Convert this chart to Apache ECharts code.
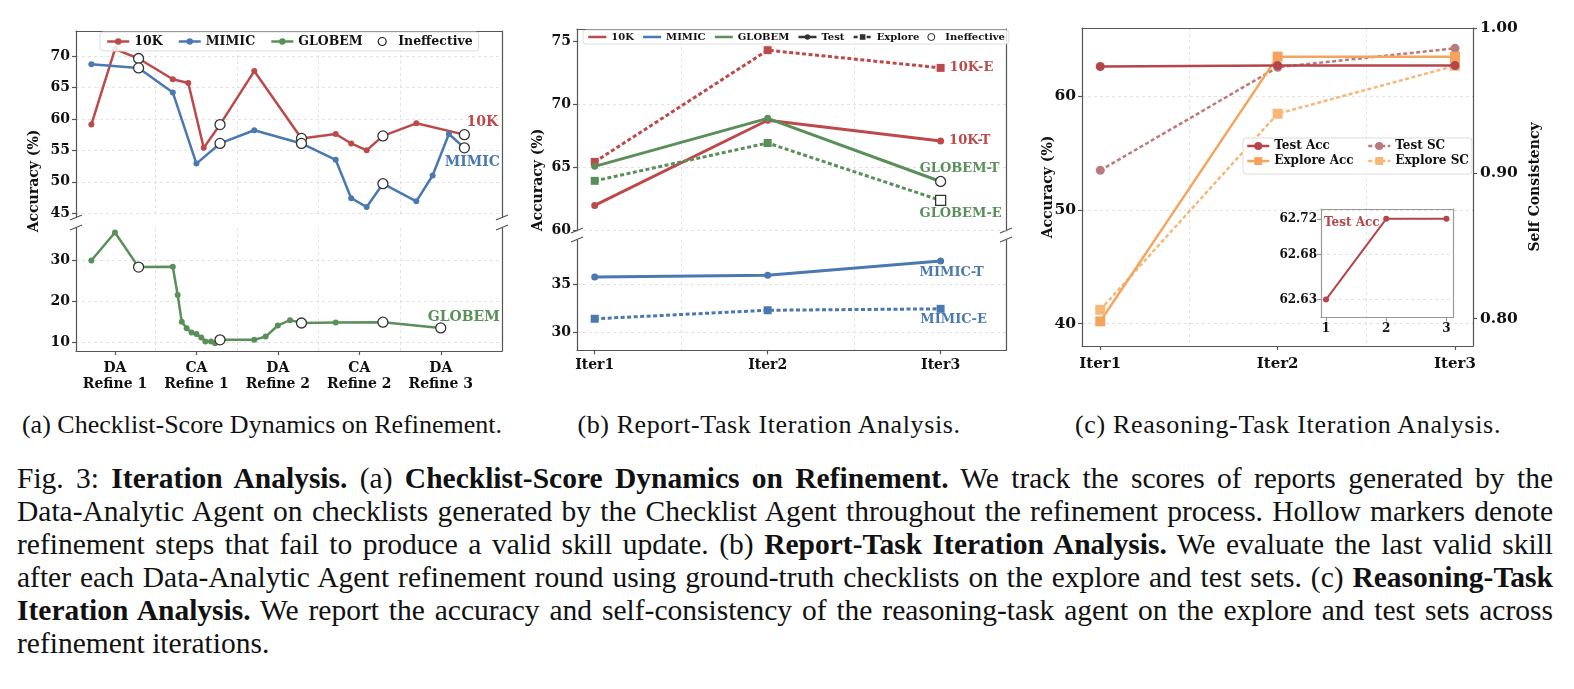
<!DOCTYPE html>
<html>
<head>
<meta charset="utf-8">
<script src="https://cdn.jsdelivr.net/npm/echarts@6/dist/echarts.min.js"></script>
<style>
body { margin: 0; background: #fff; }
#main { position: absolute; left: 0; top: 0; width: 1574px; height: 400px; }
.sub { position: absolute; top: 410px; line-height: 30px; font-family: 'Liberation Serif', serif; font-size: 26px; white-space: nowrap; transform: translateX(-50%); color: #111; }
#cap { position: absolute; left: 17px; top: 462px; width: 1536px; font-family: 'Liberation Serif', serif; font-size: 29.5px; line-height: 33px; color: #111; }
#cap div { text-align: justify; text-align-last: justify; white-space: nowrap; }
#cap div.last { text-align-last: left; }
</style>
</head>
<body>
<div id="main"></div>
<div class="sub" style="left:262px">(a) Checklist-Score Dynamics on Refinement.</div>
<div class="sub" style="left:769px;letter-spacing:0.6px">(b) Report-Task Iteration Analysis.</div>
<div class="sub" style="left:1288px;letter-spacing:0.7px">(c) Reasoning-Task Iteration Analysis.</div>
<div id="cap">
<div>Fig. 3: <b>Iteration Analysis.</b> (a) <b>Checklist-Score Dynamics on Refinement.</b> We track the scores of reports generated by the</div>
<div>Data-Analytic Agent on checklists generated by the Checklist Agent throughout the refinement process. Hollow markers denote</div>
<div>refinement steps that fail to produce a valid skill update. (b) <b>Report-Task Iteration Analysis.</b> We evaluate the last valid skill</div>
<div>after each Data-Analytic Agent refinement round using ground-truth checklists on the explore and test sets. (c) <b>Reasoning-Task</b></div>
<div><b>Iteration Analysis.</b> We report the accuracy and self-consistency of the reasoning-task agent on the explore and test sets across</div>
<div class="last">refinement iterations.</div>
</div>
<script>
// ---- (a) checklist score dynamics ----
var stageLabels = ['DA\nRefine 1', 'CA\nRefine 1', 'DA\nRefine 2', 'CA\nRefine 2', 'DA\nRefine 3'];
var step10K = [0.71, 1.0, 1.29, 1.71, 1.90, 2.09, 2.29, 2.71, 3.29, 3.71, 3.90, 4.09, 4.29, 4.70, 5.29];
var acc10K = [59.1, 71.1, 69.6, 66.3, 65.7, 55.4, 59.1, 67.6, 56.9, 57.6, 56.1, 55.0, 57.3, 59.3, 57.5];
var ineff10K = [0, 0, 1, 0, 0, 0, 1, 0, 1, 0, 0, 0, 1, 0, 1];
var stepMimic = [0.71, 1.29, 1.71, 2.0, 2.29, 2.71, 3.29, 3.71, 3.90, 4.09, 4.29, 4.70, 4.90, 5.10, 5.29];
var accMimic = [68.7, 68.1, 64.2, 52.9, 56.1, 58.2, 56.1, 53.5, 47.4, 46.0, 49.7, 46.9, 51.0, 57.6, 55.4];
var ineffMimic = [0, 1, 0, 0, 1, 0, 1, 0, 0, 0, 1, 0, 0, 0, 1];
var stepGlobem = [0.71, 1.0, 1.29, 1.71, 1.77, 1.82, 1.88, 1.94, 2.0, 2.06, 2.11, 2.18, 2.23, 2.29, 2.71, 2.85, 3.0, 3.15, 3.29, 3.71, 4.29, 5.0];
var accGlobem = [30.0, 36.8, 28.4, 28.5, 21.6, 15.1, 13.5, 12.5, 12.1, 11.3, 10.3, 10.3, 9.9, 10.7, 10.7, 11.5, 14.2, 15.5, 14.8, 14.9, 15.0, 13.6];
var ineffGlobem = [0, 0, 1, 0, 0, 0, 0, 0, 0, 0, 0, 0, 0, 1, 0, 0, 0, 0, 1, 0, 1, 1];

// ---- (b) report task ----
var iterLabels = ['Iter1', 'Iter2', 'Iter3'];
var iterX = [1, 2, 3];
var test10K = [62.0, 68.75, 67.1];
var explore10K = [65.45, 74.3, 72.9];
var testGlobem = [65.1, 68.9, 63.9];
var exploreGlobem = [63.95, 66.95, 62.4];
var testMimic = [35.8, 36.0, 37.5];
var exploreMimic = [31.4, 32.3, 32.45];
var ineffTestGlobem = [0, 0, 1];
var ineffExploreGlobem = [0, 0, 1];

// ---- (c) reasoning task ----
var testAcc = [62.63, 62.72, 62.72];
var exploreAcc = [40.2, 63.5, 63.5];
var testSC = [0.902, 0.973, 0.986];
var exploreSC = [0.806, 0.941, 0.974];

var FONT = "'DejaVu Serif', serif";
var RED = '#BD4A4A', BLUE = '#4A78B0', GREEN = '#5B8F59';
var C_TEST = '#B5454B', C_EXP = '#F4A45C', C_TSC = '#BA7A7E', C_ESC = '#F7B877';
var SPINE = '#555', GRIDC = '#dcdcdc';

var myChart = echarts.init(document.getElementById('main'));

function ax(grid, position, min, max, cfg) {
    cfg = cfg || {};
    var col = cfg.lineColor || SPINE;
    var fs = cfg.fs || 14;
    var fmt = cfg.fmt || function (v) { return String(v); };
    var a = {
        type: 'value', gridIndex: grid, position: position, min: min, max: max,
        axisLine: { show: !!cfg.line, onZero: false, lineStyle: { color: col, width: 1.2 } },
        axisTick: { show: !!cfg.labels, length: 4, lineStyle: { color: col, width: 1.2 } },
        axisLabel: {
            show: !!cfg.labels, margin: cfg.margin || 6, color: '#111',
            fontFamily: FONT, fontWeight: 'bold', fontSize: fs, lineHeight: cfg.lh || Math.round(fs * 1.15),
            formatter: fmt
        },
        splitLine: { show: !!cfg.split, lineStyle: { color: GRIDC, type: [3, 3], width: 0.8 } }
    };
    if (cfg.ticks) {
        a.axisTick.customValues = cfg.ticks;
        a.axisLabel.customValues = cfg.ticks;
    }
    if (cfg.name) {
        a.name = cfg.name;
        a.nameLocation = 'middle';
        a.nameGap = cfg.nameGap;
        a.nameMoveOverlap = cfg.nameMove;
        a.nameTextStyle = { fontFamily: FONT, fontWeight: 'bold', fontSize: 14, color: '#111' };
    }
    return a;
}

function pts(xs, ys, ineff, sym, size) {
    return ys.map(function (y, i) {
        var d = { value: [xs[i], y] };
        if (ineff && ineff[i]) {
            d.symbol = sym;
            d.symbolSize = size;
            d.itemStyle = { color: '#fff', borderColor: '#333', borderWidth: 1.3 };
        }
        return d;
    });
}

function endLabel(data, text, color, pos, offset, fs) {
    data[data.length - 1].label = {
        show: true, position: pos, offset: offset, formatter: text, color: color,
        fontFamily: FONT, fontWeight: 'bold', fontSize: fs || 14
    };
    return data;
}

function line(name, xi, yi, color, data, opts) {
    opts = opts || {};
    return {
        name: name, type: 'line', xAxisIndex: xi, yAxisIndex: yi, data: data,
        symbol: opts.symbol || 'circle', symbolSize: opts.size || 6,
        itemStyle: { color: color },
        lineStyle: { color: color, width: opts.width || 2.5, type: opts.dash ? [4, 2.5] : 'solid' },
        emphasis: { disabled: true }, z: opts.z || 2
    };
}

var stageFmt = function (v) { return stageLabels[Math.round(v) - 1]; };
var iterFmt = function (v) { return iterLabels[Math.round(v) - 1]; };
var fix2 = function (v) { return v.toFixed(2); };

var A_MIN = 0.5215, A_MAX = 5.752, A_HALF = [1.5, 2.5, 3.5, 4.5];
var B_MIN = 0.8976, B_MAX = 3.378;
var C_MIN = 0.897, C_MAX = 3.1015;
var I_MIN = 0.917, I_MAX = 3.109;

var legendText = { fontFamily: FONT, fontWeight: 'bold', color: '#111' };

var option = {
    animation: false,
    grid: [
        { left: 76, top: 31, width: 426, height: 186, outerBoundsMode: 'none' },
        { left: 76, top: 228, width: 426, height: 123, outerBoundsMode: 'none' },
        { left: 577, top: 29, width: 429, height: 201.7, outerBoundsMode: 'none' },
        { left: 577, top: 240, width: 429, height: 110.3, outerBoundsMode: 'none' },
        { left: 1082, top: 28, width: 391, height: 318, outerBoundsMode: 'none' },
        { left: 1321, top: 209, width: 132, height: 108.5, outerBoundsMode: 'none' }
    ],
    xAxis: [
        ax(0, 'bottom', A_MIN, A_MAX, { split: true, ticks: A_HALF }),
        ax(0, 'top', A_MIN, A_MAX, { line: true }),
        ax(1, 'bottom', A_MIN, A_MAX, { line: true, labels: true, ticks: [1, 2, 3, 4, 5], fmt: stageFmt, lh: 16, margin: 9 }),
        ax(1, 'top', A_MIN, A_MAX, { split: true, ticks: A_HALF }),
        ax(2, 'bottom', B_MIN, B_MAX, { split: true, ticks: [1.5, 2.5] }),
        ax(2, 'top', B_MIN, B_MAX, { line: true }),
        ax(3, 'bottom', B_MIN, B_MAX, { line: true, labels: true, ticks: iterX, fmt: iterFmt, margin: 7 }),
        ax(3, 'top', B_MIN, B_MAX, { split: true, ticks: [1.5, 2.5] }),
        ax(4, 'bottom', C_MIN, C_MAX, { line: true, labels: true, ticks: iterX, fmt: iterFmt, fs: 15, margin: 10 }),
        ax(4, 'top', C_MIN, C_MAX, { line: true, split: true, ticks: [1.5, 2.5] }),
        ax(5, 'bottom', I_MIN, I_MAX, { line: true, labels: true, ticks: iterX, fs: 12, lineColor: '#999', margin: 4 }),
        ax(5, 'top', I_MIN, I_MAX, { line: true, lineColor: '#999' })
    ],
    yAxis: [
        ax(0, 'left', 44.41, 73.97, { line: true, labels: true, split: true, ticks: [45, 50, 55, 60, 65, 70] }),
        ax(0, 'right', 44.41, 73.97, { line: true }),
        ax(1, 'left', 7.99, 37.91, { line: true, labels: true, split: true, ticks: [10, 20, 30] }),
        ax(1, 'right', 7.99, 37.91, { line: true }),
        ax(2, 'left', 60, 75.98, { line: true, labels: true, split: true, ticks: [60, 65, 70, 75] }),
        ax(2, 'right', 60, 75.98, { line: true }),
        ax(3, 'left', 28.07, 39.72, { line: true, labels: true, split: true, ticks: [30, 35] }),
        ax(3, 'right', 28.07, 39.72, { line: true }),
        ax(4, 'left', 38.03, 66.02, { line: true, labels: true, split: true, ticks: [40, 50, 60], fs: 15.5,
            name: 'Accuracy (%)', nameGap: 27, nameMove: false }),
        ax(4, 'right', 0.7811, 1.0, { line: true, labels: true, ticks: [0.8, 0.9, 1.0], fs: 15.5, margin: 7,
            fmt: fix2, name: 'Self Consistency', nameGap: 55 }),
        ax(5, 'left', 62.61, 62.731, { line: true, labels: true, split: true, ticks: [62.63, 62.68, 62.72], fs: 12, lineColor: '#999', margin: 4,
            fmt: fix2 }),
        ax(5, 'right', 62.61, 62.731, { line: true, lineColor: '#999' })
    ],
    legend: [
        {
            left: 100, top: 32, padding: [3, 6], itemGap: 15, itemWidth: 22, itemHeight: 8,
            backgroundColor: 'rgba(255,255,255,0.85)', borderColor: '#ddd', borderWidth: 1, borderRadius: 3,
            textStyle: Object.assign({ fontSize: 12.5 }, legendText), lineStyle: { width: 2.5 },
            data: ['10K', 'MIMIC', 'GLOBEM',
                { name: 'Ineffective', icon: 'circle', itemStyle: { color: '#fff', borderColor: '#222', borderWidth: 1.2 } }]
        },
        {
            left: 583, top: 30, padding: [2, 4], itemGap: 8, itemWidth: 18, itemHeight: 7,
            backgroundColor: 'rgba(255,255,255,0.85)', borderColor: '#ddd', borderWidth: 1, borderRadius: 3,
            textStyle: Object.assign({ fontSize: 10 }, legendText), lineStyle: { width: 2.5 },
            formatter: function (n) { return n.slice(2); },
            data: [
                { name: 'b:10K', itemStyle: { opacity: 0 } },
                { name: 'b:MIMIC', itemStyle: { opacity: 0 } },
                { name: 'b:GLOBEM', itemStyle: { opacity: 0 } },
                'b:Test', 'b:Explore',
                { name: 'b:Ineffective', icon: 'circle', itemStyle: { color: '#fff', borderColor: '#222', borderWidth: 1 } }]
        },
        {
            left: 1246, top: 140, orient: 'vertical', padding: 0, itemGap: 3, itemWidth: 22, itemHeight: 10,
            textStyle: Object.assign({ fontSize: 12 }, legendText), lineStyle: { width: 2.5 },
            data: ['Test Acc', 'Explore Acc']
        },
        {
            left: 1367, top: 140, orient: 'vertical', padding: 0, itemGap: 3, itemWidth: 22, itemHeight: 10,
            textStyle: Object.assign({ fontSize: 12 }, legendText), lineStyle: { width: 2.5 },
            data: ['Test SC', 'Explore SC']
        }
    ],
    series: [
        // (a)
        line('10K', 0, 0, RED, endLabel(pts(step10K, acc10K, ineff10K, 'circle', 10), '10K', RED, 'top', [18, 5])),
        line('MIMIC', 0, 0, BLUE, endLabel(pts(stepMimic, accMimic, ineffMimic, 'circle', 10), 'MIMIC', BLUE, 'bottom', [8, -3])),
        line('GLOBEM', 2, 2, GREEN, endLabel(pts(stepGlobem, accGlobem, ineffGlobem, 'circle', 10), 'GLOBEM', GREEN, 'top', [23, 7])),
        { name: 'Ineffective', type: 'line', xAxisIndex: 0, yAxisIndex: 0, data: [], symbol: 'circle',
          itemStyle: { color: '#fff', borderColor: '#222', borderWidth: 1.2 }, lineStyle: { width: 0 } },
        // (b)
        line('10K-E', 4, 4, RED, endLabel(pts(iterX, explore10K, null), '10K-E', RED, 'right', [0, 0], 13), { symbol: 'rect', size: 8, dash: true, width: 3 }),
        line('10K-T', 4, 4, RED, endLabel(pts(iterX, test10K, null), '10K-T', RED, 'right', [0, 0], 13), { size: 7, width: 3 }),
        line('GLOBEM-E', 4, 4, GREEN, endLabel(pts(iterX, exploreGlobem, ineffExploreGlobem, 'rect', 10), 'GLOBEM-E', GREEN, 'bottom', [20, -4], 13), { symbol: 'rect', size: 8, dash: true, width: 3 }),
        line('GLOBEM-T', 4, 4, GREEN, endLabel(pts(iterX, testGlobem, ineffTestGlobem, 'circle', 10), 'GLOBEM-T', GREEN, 'top', [19, 4], 13), { size: 7, width: 3 }),
        line('MIMIC-T', 6, 6, BLUE, endLabel(pts(iterX, testMimic, null), 'MIMIC-T', BLUE, 'bottom', [11, -3], 13), { size: 7, width: 3 }),
        line('MIMIC-E', 6, 6, BLUE, endLabel(pts(iterX, exploreMimic, null), 'MIMIC-E', BLUE, 'bottom', [13, -5], 13), { symbol: 'rect', size: 8, dash: true, width: 3 }),
        line('b:10K', 4, 4, RED, [], { width: 2.5 }),
        line('b:MIMIC', 4, 4, BLUE, [], { width: 2.5 }),
        line('b:GLOBEM', 4, 4, GREEN, [], { width: 2.5 }),
        line('b:Test', 4, 4, '#333', [], { width: 2.5 }),
        line('b:Explore', 4, 4, '#333', [], { symbol: 'rect', dash: true, width: 2.5 }),
        { name: 'b:Ineffective', type: 'line', xAxisIndex: 4, yAxisIndex: 4, data: [], symbol: 'circle',
          itemStyle: { color: '#fff', borderColor: '#222', borderWidth: 1 }, lineStyle: { width: 0 } },
        // (c)
        line('Test SC', 8, 9, C_TSC, pts(iterX, testSC, null), { size: 9, dash: true }),
        line('Explore SC', 8, 9, C_ESC, pts(iterX, exploreSC, null), { symbol: 'rect', size: 10, dash: true }),
        line('Explore Acc', 8, 8, C_EXP, pts(iterX, exploreAcc, null), { symbol: 'rect', size: 10 }),
        line('Test Acc', 8, 8, C_TEST, pts(iterX, testAcc, null), { size: 9, z: 3 }),
        line('inset', 10, 10, C_TEST, pts(iterX, testAcc, null), { size: 6, width: 2 })
    ],
    graphic: [
        // broken-axis marks
        { type: 'line', shape: { x1: 70, y1: 220, x2: 82, y2: 215 }, style: { stroke: SPINE, lineWidth: 1.2 } },
        { type: 'line', shape: { x1: 70, y1: 230, x2: 82, y2: 225 }, style: { stroke: SPINE, lineWidth: 1.2 } },
        { type: 'line', shape: { x1: 496, y1: 220, x2: 508, y2: 215 }, style: { stroke: SPINE, lineWidth: 1.2 } },
        { type: 'line', shape: { x1: 496, y1: 230, x2: 508, y2: 225 }, style: { stroke: SPINE, lineWidth: 1.2 } },
        { type: 'line', shape: { x1: 571, y1: 233, x2: 583, y2: 228 }, style: { stroke: SPINE, lineWidth: 1.2 } },
        { type: 'line', shape: { x1: 571, y1: 242, x2: 583, y2: 237 }, style: { stroke: SPINE, lineWidth: 1.2 } },
        { type: 'line', shape: { x1: 1000, y1: 233, x2: 1012, y2: 228 }, style: { stroke: SPINE, lineWidth: 1.2 } },
        { type: 'line', shape: { x1: 1000, y1: 242, x2: 1012, y2: 237 }, style: { stroke: SPINE, lineWidth: 1.2 } },
        // y-axis names spanning both halves
        { type: 'text', x: 34, y: 181, rotation: Math.PI / 2,
          style: { text: 'Accuracy (%)', font: 'bold 14px ' + FONT, fill: '#111', align: 'center', verticalAlign: 'middle' } },
        { type: 'text', x: 538, y: 180, rotation: Math.PI / 2,
          style: { text: 'Accuracy (%)', font: 'bold 14px ' + FONT, fill: '#111', align: 'center', verticalAlign: 'middle' } },
        // legend frame for (c)
        { type: 'rect', z: 3, shape: { x: 1243, y: 138, width: 229, height: 36, r: 3 },
          style: { fill: 'rgba(255,255,255,0.85)', stroke: '#ddd', lineWidth: 1 } },
        // inset title
        { type: 'text', z: 5, x: 1324, y: 223,
          style: { text: 'Test Acc', font: 'bold 12px ' + FONT, fill: C_TEST, align: 'left', verticalAlign: 'middle' } }
    ]
};

myChart.setOption(option);
</script>
</body>
</html>
